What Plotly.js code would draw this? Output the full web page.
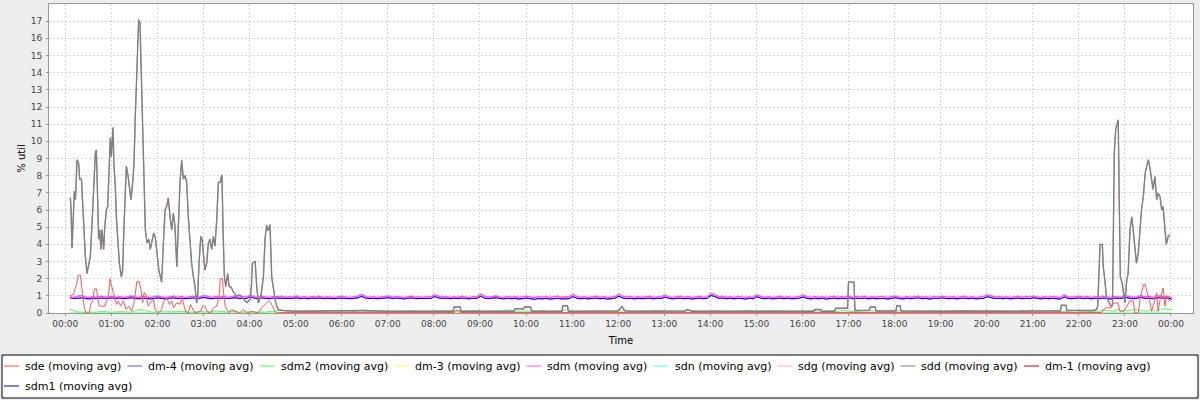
<!DOCTYPE html>
<html>
<head>
<meta charset="utf-8">
<script src="https://cdn.plot.ly/plotly-3.0.1.min.js"></script>
<style>
html,body{margin:0;padding:0;background:#eeeeee;}
#chart{width:1200px;height:400px;}
</style>
</head>
<body>
<div id="chart"></div>
<script>
// ---------- tick labels ----------
const hourTicks = [0,1,2,3,4,5,6,7,8,9,10,11,12,13,14,15,16,17,18,19,20,21,22,23,24];
const hourLabels = ["00:00","01:00","02:00","03:00","04:00","05:00","06:00","07:00","08:00","09:00","10:00","11:00",
  "12:00","13:00","14:00","15:00","16:00","17:00","18:00","19:00","20:00","21:00","22:00","23:00","00:00"];
const yTicks = [0,1,2,3,4,5,6,7,8,9,10,11,12,13,14,15,16,17];

// ---------- series names (legend order) ----------
const seriesNames = ["sde","dm-4","sdm2","dm-3","sdm","sdn","sdg","sdd","dm-1","sdm1"];

// ---------- sdd / sdg / dm-1 (hours, % util) ----------
const sddTime = [0.109,0.125,0.145,0.17,0.196,0.22,0.254,0.29,0.312,0.35,0.377,0.405,0.435,0.471,0.507,0.543,0.58,0.616,0.652,0.674,
  0.70,0.724,0.746,0.775,0.797,0.833,0.855,0.891,0.92,0.941,0.977,0.999,1.035,1.057,1.086,1.108,1.144,1.173,1.216,1.245,
  1.274,1.303,1.325,1.361,1.397,1.426,1.462,1.491,1.52,1.556,1.592,1.621,1.65,1.679,1.708,1.737,1.773,1.809,1.845,1.881,
  1.918,1.954,1.99,2.03,2.09,2.128,2.164,2.2,2.236,2.273,2.31,2.345,2.38,2.42,2.455,2.49,2.526,2.563,2.6,2.635,
  2.67,2.706,2.742,2.78,2.815,2.85,2.873,2.903,2.94,2.97,3.0,3.03,3.07,3.105,3.14,3.177,3.213,3.25,3.286,3.322,
  3.358,3.40,3.424,3.453,3.482,3.525,3.554,3.6,3.65,3.72,3.79,3.865,3.94,4.01,4.04,4.06,4.12,4.155,4.19,4.245,
  4.3,4.335,4.37,4.405,4.443,4.48,4.515,4.566,4.62,4.7,
  5.0,5.5,6.0,6.5,7.0,7.5,8.0,8.42,8.44,8.57,8.59,9.0,9.5,9.74,9.76,9.95,9.97,10.1,10.12,10.78,10.8,10.9,10.92,11.5,
  12.0,12.08,12.15,12.5,13.0,13.45,13.5,13.6,14.0,14.5,15.0,15.5,16.25,16.27,16.4,16.42,16.7,16.72,16.98,17.0,17.12,17.14,
  17.45,17.47,17.58,17.6,18.03,18.05,18.12,18.14,18.5,19.0,19.5,20.0,20.5,21.0,21.6,21.62,21.72,21.74,22.0,22.3,
  22.38,22.41,22.44,22.46,22.51,22.53,22.57,22.6,22.64,22.7,22.73,22.75,22.77,22.8,22.84,22.855,22.875,22.9,22.94,22.97,
  23.0,23.04,23.07,23.11,23.15,23.18,23.22,23.25,23.29,23.33,23.36,23.4,23.44,23.47,23.51,23.54,23.58,23.61,23.65,23.69,
  23.72,23.76,23.8,23.83,23.87,23.9,23.94,23.98];
const sddVal = [6.73,6.0,3.78,5.2,7.08,6.6,8.92,8.7,7.8,7.8,6.4,4.5,3.3,2.3,2.9,3.3,5.2,7.6,9.3,9.5,
  6.0,4.3,4.85,3.7,4.85,3.7,4.95,6.0,6.2,7.9,10.2,9.1,10.8,8.55,7.4,5.6,4.3,2.9,2.1,2.5,
  5.05,7.6,8.55,8.0,7.2,6.6,7.6,8.7,11.5,14.75,17.1,16.9,14.0,10.7,6.8,4.85,4.1,4.3,3.7,4.1,
  4.65,4.4,3.3,2.5,1.8,4.3,6.0,6.2,6.7,5.6,4.85,5.8,5.1,2.7,5.1,7.6,8.9,7.8,8.0,7.6,
  5.6,3.9,2.9,2.1,1.55,0.58,1.0,2.9,4.46,4.3,3.3,2.5,2.9,4.07,4.3,3.7,4.46,3.9,5.4,7.6,
  7.6,8.05,4.85,2.1,1.55,2.3,1.55,1.5,1.2,1.0,1.05,0.8,0.6,0.8,1.6,2.9,3.0,1.55,0.6,1.0,
  2.1,4.3,5.1,4.8,5.15,2.1,1.55,0.6,0.2,0.15,
  0.1,0.12,0.1,0.15,0.1,0.12,0.1,0.1,0.35,0.35,0.1,0.1,0.12,0.1,0.25,0.25,0.35,0.35,0.1,0.1,0.42,0.42,0.1,0.1,
  0.12,0.38,0.12,0.1,0.1,0.12,0.2,0.1,0.1,0.1,0.12,0.1,0.1,0.2,0.2,0.1,0.1,0.28,0.28,1.8,1.8,0.15,
  0.15,0.35,0.35,0.12,0.12,0.42,0.42,0.12,0.1,0.1,0.12,0.1,0.1,0.12,0.12,0.45,0.45,0.15,0.15,0.15,
  0.2,0.4,2.5,4.0,4.0,2.7,1.75,0.9,0.7,0.4,0.45,6.0,9.3,10.7,11.15,11.25,7.0,2.1,1.75,1.0,
  0.6,1.9,2.3,4.85,5.6,4.85,3.7,2.9,3.5,5.05,6.0,6.8,8.15,8.5,8.93,8.5,7.76,7.2,7.95,6.6,
  6.98,6.8,6.0,6.2,4.85,4.0,4.46,4.56];

// ---------- sde ----------
const sdeTime = [0.102,0.18,0.21,0.247,0.28,0.33,0.355,0.39,0.42,0.45,0.52,0.55,0.59,0.63,0.68,0.70,0.74,0.86,0.90,0.94,
  0.97,1.01,1.04,1.08,1.11,1.15,1.2,1.26,1.32,1.38,1.44,1.5,1.55,1.6,1.64,1.68,1.71,1.76,1.8,1.87,
  1.91,1.95,2.02,2.09,2.14,2.2,2.26,2.31,2.35,2.42,2.49,2.53,2.57,2.61,2.67,2.72,2.77,2.82,2.94,2.98,
  3.03,3.07,3.15,3.22,3.29,3.35,3.36,3.41,3.43,3.47,3.51,3.56,3.61,3.72,3.78,3.86,3.94,4.05,4.19,4.26,
  4.33,4.41,4.46,4.52,4.55,4.6,4.7,6.0,8.45,8.47,8.55,8.57,12.0,17.0,21.0,22.5,
  22.53,22.6,22.7,22.75,22.85,22.89,22.98,23.04,23.11,23.18,23.22,23.29,23.33,23.4,23.44,23.47,23.54,23.58,23.65,23.69,
  23.72,23.78,23.83,23.87,23.9,23.94,23.98];
const sdeVal = [1.0,1.1,1.4,1.7,2.2,2.2,1.5,0.7,0.2,0.0,0.0,0.5,0.7,1.4,1.4,0.9,0.4,0.4,0.8,1.1,
  2.0,1.5,1.2,0.9,0.5,0.7,0.4,0.7,0.2,0.4,0.1,0.7,1.8,1.85,1.4,0.6,1.2,1.0,0.4,0.7,
  0.8,0.2,0.0,0.2,0.7,0.9,0.5,0.7,0.3,0.6,0.5,0.9,0.4,0.1,0.0,0.5,0.2,0.0,0.1,0.4,
  0.4,0.1,0.0,0.3,0.4,1.2,2.0,2.0,1.35,0.4,0.2,0.0,0.2,0.1,0.0,0.2,0.0,0.1,0.0,0.3,
  0.5,0.7,0.6,0.3,0.1,0.0,0.03,0.03,0.03,0.15,0.15,0.03,0.03,0.03,0.03,0.03,
  0.2,0.3,0.3,0.58,0.58,0.1,0.1,0.4,0.7,0.7,0.0,0.0,0.78,1.66,1.66,1.3,0.7,0.1,0.78,1.17,
  0.1,1.0,1.45,0.4,1.0,0.8,0.7];

// ---------- 5-minute samples from 00:06 ----------
const gridStart = 0.1;
const gridStep = 1 / 12;
const sdmVal = [
  0.95,0.9,0.98,1.02,0.94,0.9,0.96,0.92,0.97,0.93,0.95,0.98,
  0.92,0.96,0.9,0.95,0.99,0.93,0.91,0.97,0.94,0.9,0.96,0.99,
  0.93,0.89,0.95,0.97,0.92,0.96,0.9,0.94,0.98,0.93,0.95,1.02,
  0.94,0.9,0.96,0.93,0.97,0.91,0.95,0.99,0.92,0.96,0.93,1.05,
  0.95,0.91,0.97,0.93,0.9,0.96,0.94,0.98,0.92,0.95,0.93,0.99,
  0.92,0.95,0.9,0.96,0.93,0.97,0.91,0.95,0.93,0.9,0.96,0.98,
  0.93,0.9,0.95,0.98,1.08,0.96,0.92,0.95,0.91,0.94,0.97,0.99,
  0.92,0.96,0.93,0.9,0.95,0.97,0.92,0.94,0.9,0.96,0.93,1.07,
  0.98,0.93,0.96,0.91,0.95,0.92,0.97,0.93,0.9,0.95,0.94,1.1,
  0.97,0.92,0.95,0.99,0.93,0.9,0.96,0.92,0.95,0.91,0.94,0.98,
  0.93,0.9,0.95,0.92,0.96,0.91,0.94,0.97,0.92,0.95,0.93,1.08,
  0.96,0.92,0.95,0.91,0.94,0.97,0.92,0.95,0.9,0.94,0.96,1.1,
  0.97,0.93,0.96,0.91,0.95,0.92,0.94,0.97,0.91,0.95,0.93,1.04,
  0.95,0.91,0.94,0.97,0.92,0.96,0.9,0.94,0.97,0.92,0.95,1.15,
  1.08,0.94,0.97,0.92,0.95,0.91,0.96,0.93,0.9,0.95,0.92,1.06,
  0.96,0.92,0.95,0.91,0.94,0.97,0.92,0.95,0.91,0.94,0.96,1.05,
  0.94,0.91,0.96,0.92,0.95,0.9,0.94,0.97,0.92,0.95,0.93,0.98,
  0.92,0.96,0.93,0.97,0.91,0.95,0.92,0.96,0.94,0.9,0.95,0.99,
  0.93,0.91,0.96,0.92,0.95,0.98,0.92,0.94,0.9,0.96,0.93,0.98,
  0.95,0.92,0.96,0.91,0.94,0.97,0.92,0.95,0.91,0.94,0.96,1.06,
  1.0,0.93,0.96,0.92,0.95,0.91,0.94,0.97,0.92,0.96,0.93,0.99,
  0.94,0.91,0.95,0.92,0.96,0.93,0.9,1.05,0.94,0.92,0.96,0.98,
  0.93,0.96,0.91,0.95,0.92,0.97,0.94,0.9,0.96,0.93,0.95,1.0,
  0.96,0.92,0.95,1.02,0.94,0.97,0.92,0.96,1.0,0.94,0.98,0.88];
const sdm1Val = [
  0.9,0.84,0.86,0.88,0.85,0.82,0.86,0.84,0.87,0.85,0.86,0.88,
  0.85,0.87,0.83,0.86,0.89,0.85,0.83,0.87,0.85,0.82,0.86,0.88,
  0.85,0.82,0.86,0.88,0.84,0.87,0.83,0.85,0.88,0.85,0.86,0.9,
  0.86,0.83,0.87,0.85,0.88,0.84,0.86,0.89,0.85,0.87,0.85,0.95,
  0.87,0.84,0.88,0.85,0.83,0.87,0.86,0.89,0.84,0.86,0.85,0.89,
  0.84,0.87,0.83,0.87,0.85,0.88,0.84,0.86,0.85,0.83,0.87,0.88,
  0.85,0.83,0.86,0.88,0.97,0.87,0.84,0.86,0.83,0.85,0.88,0.89,
  0.84,0.87,0.85,0.82,0.86,0.88,0.84,0.85,0.82,0.87,0.85,0.96,
  0.88,0.85,0.87,0.83,0.86,0.84,0.87,0.85,0.82,0.86,0.85,0.98,
  0.87,0.84,0.86,0.89,0.85,0.82,0.86,0.83,0.85,0.81,0.84,0.87,
  0.83,0.8,0.84,0.82,0.85,0.81,0.83,0.86,0.82,0.84,0.83,0.96,
  0.86,0.83,0.85,0.82,0.84,0.87,0.83,0.85,0.81,0.84,0.86,0.98,
  0.87,0.84,0.86,0.82,0.85,0.83,0.85,0.87,0.82,0.86,0.84,0.93,
  0.86,0.82,0.85,0.87,0.83,0.86,0.81,0.84,0.87,0.83,0.85,1.02,
  0.96,0.85,0.87,0.83,0.86,0.82,0.86,0.84,0.81,0.86,0.83,0.95,
  0.86,0.83,0.86,0.82,0.85,0.87,0.83,0.86,0.82,0.85,0.86,0.94,
  0.85,0.82,0.86,0.83,0.86,0.81,0.85,0.87,0.83,0.86,0.84,0.88,
  0.83,0.86,0.84,0.87,0.82,0.86,0.83,0.86,0.85,0.81,0.85,0.89,
  0.84,0.82,0.86,0.83,0.86,0.88,0.83,0.85,0.81,0.86,0.84,0.88,
  0.86,0.83,0.86,0.82,0.85,0.87,0.83,0.86,0.82,0.85,0.86,0.95,
  0.9,0.84,0.86,0.83,0.86,0.82,0.85,0.87,0.83,0.86,0.84,0.89,
  0.85,0.82,0.86,0.83,0.86,0.84,0.81,0.94,0.85,0.83,0.86,0.88,
  0.84,0.87,0.82,0.86,0.83,0.87,0.85,0.81,0.86,0.84,0.86,0.9,
  0.87,0.83,0.86,0.92,0.85,0.87,0.83,0.86,0.9,0.85,0.88,0.8];
const sdm2Val = [
  0.22,0.12,0.06,0.05,0.05,0.08,0.06,0.05,0.1,0.1,0.06,0.05,
  0.06,0.1,0.08,0.05,0.06,0.12,0.2,0.18,0.1,0.06,0.05,0.06,
  0.1,0.12,0.06,0.05,0.08,0.1,0.06,0.05,0.05,0.08,0.1,0.06,
  0.05,0.08,0.12,0.1,0.05,0.06,0.1,0.06,0.05,0.05,0.08,0.06,
  0.05,0.08,0.05,0.05,0.1,0.08,0.12,0.18,0.15,0.12,0.1,0.12,
  0.1,0.12,0.08,0.1,0.12,0.1,0.08,0.1,0.15,0.12,0.1,0.1,
  0.12,0.1,0.08,0.12,0.15,0.1,0.1,0.12,0.08,0.1,0.12,0.1,
  0.1,0.12,0.1,0.08,0.1,0.15,0.12,0.1,0.08,0.1,0.12,0.1,
  0.12,0.1,0.15,0.12,0.1,0.08,0.1,0.12,0.1,0.15,0.12,0.1,
  0.1,0.08,0.12,0.1,0.1,0.12,0.18,0.15,0.1,0.12,0.1,0.08,
  0.1,0.12,0.1,0.15,0.1,0.08,0.1,0.12,0.1,0.18,0.12,0.1,
  0.08,0.1,0.12,0.1,0.1,0.15,0.12,0.1,0.08,0.1,0.12,0.1,
  0.12,0.15,0.1,0.1,0.08,0.12,0.1,0.1,0.15,0.12,0.1,0.1,
  0.1,0.12,0.1,0.08,0.1,0.12,0.15,0.1,0.12,0.1,0.08,0.12,
  0.15,0.1,0.12,0.1,0.1,0.08,0.12,0.1,0.15,0.12,0.1,0.1,
  0.12,0.1,0.08,0.1,0.12,0.15,0.1,0.12,0.1,0.08,0.1,0.12,
  0.1,0.12,0.15,0.1,0.08,0.1,0.12,0.1,0.1,0.15,0.12,0.1,
  0.08,0.1,0.12,0.1,0.15,0.12,0.1,0.08,0.1,0.12,0.1,0.1,
  0.12,0.1,0.1,0.15,0.12,0.1,0.08,0.1,0.12,0.1,0.15,0.1,
  0.1,0.12,0.08,0.1,0.12,0.15,0.1,0.1,0.12,0.08,0.1,0.12,
  0.1,0.15,0.12,0.1,0.08,0.1,0.12,0.1,0.15,0.1,0.12,0.1,
  0.08,0.1,0.12,0.15,0.1,0.12,0.1,0.08,0.1,0.12,0.15,0.1,
  0.12,0.1,0.08,0.1,0.12,0.1,0.15,0.12,0.1,0.2,0.18,0.12,
  0.15,0.2,0.18,0.12,0.1,0.12,0.15,0.1,0.2,0.25,0.2,0.22];

// ---------- flat (idle) devices ----------
const flatTime = [0.1, 24.0];
const dm3Val = [0, 0];
const sdnVal = [0, 0];

// ---------- build ----------
const gridTime = sdmVal.map((_, i) => gridStart + i * gridStep);
const colors = {"sde":"#ff5555","dm-4":"#5555ff","sdm2":"#55ff55","dm-3":"#ffff55","sdm":"#ff55ff",
  "sdn":"#55ffff","sdg":"#ffafaf","sdd":"#808080","dm-1":"#c00000","sdm1":"#0000c0"};
const seriesData = {
  "sde":[sdeTime, sdeVal], "dm-4":[gridTime, sdm1Val], "sdm2":[gridTime, sdm2Val], "dm-3":[flatTime, dm3Val],
  "sdm":[gridTime, sdmVal], "sdn":[flatTime, sdnVal], "sdg":[sddTime, sddVal], "sdd":[sddTime, sddVal],
  "dm-1":[sddTime, sddVal], "sdm1":[gridTime, sdm1Val]
};
const widths = {"dm-1":0.4, "sdg":0.6, "sdd":1.4, "sdm":1.5};
// drawing order (bottom -> top)
const drawOrder = ["dm-3","sdn","dm-4","sdm1","sdm","sdm2","dm-1","sdg","sdd","sde"];
const traces = drawOrder.map(k => ({
  type: 'scatter', mode: 'lines', name: k + ' (moving avg)',
  x: seriesData[k][0], y: seriesData[k][1],
  line: {color: colors[k], width: widths[k] || 1},
  showlegend: false, hoverinfo: 'skip'
}));

// layout geometry
const M = {l: 49, r: 7, t: 4, b: 87};
const PW = 1200 - M.l - M.r, PH = 400 - M.t - M.b;
const px2x = px => (px - M.l) / PW;
const py2y = py => (M.t + PH - py) / PH;

// legend (JFreeChart-style flow box)
const legendFontSize = 11;
const ctx = document.createElement('canvas').getContext('2d');
ctx.font = legendFontSize + 'px "DejaVu Sans"';
const shapes = [{type:'rect', xref:'paper', yref:'paper', x0:px2x(2), x1:px2x(1198), y0:py2y(355), y1:py2y(398),
  line:{color:'#000000', width:1}, fillcolor:'#ffffff', layer:'above'}];
const annotations = [];
const rowY = [366, 386];
let cx = 4, row = 0;
seriesNames.forEach(k => {
  const label = k + ' (moving avg)';
  const tw = ctx.measureText(label).width;
  const itemW = 15 + 5 + tw;
  if (cx + itemW > 1194) { row++; cx = 4; }
  shapes.push({type:'line', xref:'paper', yref:'paper', x0:px2x(cx), x1:px2x(cx + 15),
    y0:py2y(rowY[row]), y1:py2y(rowY[row]), line:{color:colors[k], width:1}, layer:'above'});
  annotations.push({xref:'paper', yref:'paper', x:px2x(cx + 20), y:py2y(rowY[row]), xanchor:'left', yanchor:'middle',
    text:label, showarrow:false, borderpad:0, font:{family:'DejaVu Sans', size:legendFontSize, color:'#000000'}});
  cx += itemW + 7;
});

const axisCommon = {
  showline: true, linecolor: '#999999', linewidth: 1, mirror: true,
  showgrid: true, gridcolor: '#dadada', griddash: '2px,2px', gridwidth: 1,
  zeroline: false, ticks: 'outside', ticklen: 2, tickcolor: '#999999',
  tickfont: {family: 'DejaVu Sans', size: 9, color: '#444444'}
};

const layout = {
  width: 1200, height: 400,
  margin: {l: M.l, r: M.r, t: M.t, b: M.b, pad: 0, autoexpand: false},
  paper_bgcolor: '#eeeeee', plot_bgcolor: '#ffffff',
  showlegend: false,
  xaxis: Object.assign({}, axisCommon, {
    range: [-0.354, 24.478], tickmode: 'array', tickvals: hourTicks, ticktext: hourLabels,
    title: {text: 'Time', font: {family: 'DejaVu Sans', size: 10, color: '#000000'}, standoff: 9}
  }),
  yaxis: Object.assign({}, axisCommon, {
    range: [0, 18], tickmode: 'array', tickvals: yTicks, ticktext: yTicks.map(String),
    ticklabelstandoff: 2,
    title: {text: '% util', font: {family: 'DejaVu Sans', size: 10, color: '#000000'}, standoff: 3}
  }),
  shapes: shapes,
  annotations: annotations
};

Plotly.newPlot('chart', traces, layout, {staticPlot: true, displayModeBar: false});
</script>
</body>
</html>
